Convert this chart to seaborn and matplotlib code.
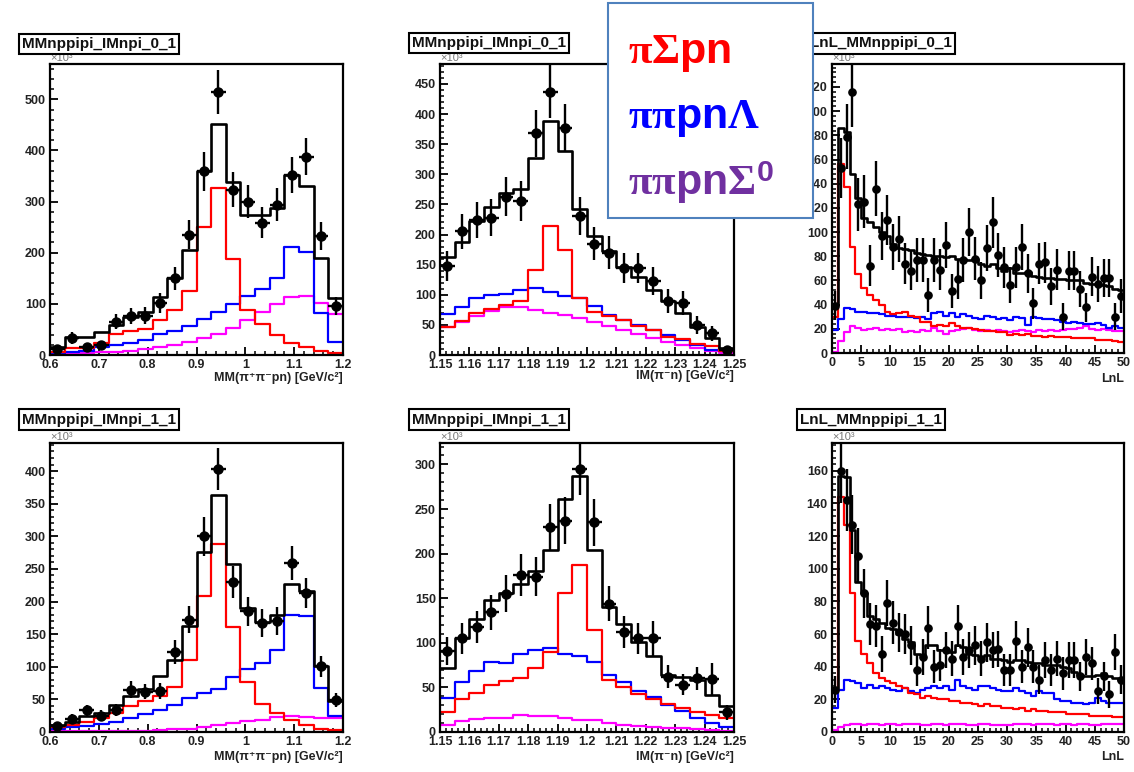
import numpy as np
import pandas as pd
import matplotlib
matplotlib.use("Agg")
import matplotlib.pyplot as plt
import seaborn as sns
from matplotlib.patches import Rectangle
from matplotlib.ticker import MultipleLocator, FormatStrFormatter

# ------------------------------------------------------------------ data
# Panel 1: MM(pi+ pi- p n), selection 0_1  (20 bins, 0.6 - 1.2)
mm0_data = [11, 33, 15, 20, 65, 76, 77, 102, 150, 235, 359, 515, 323, 300, 259, 294, 352, 388, 233, 96]
mm0_err = [6, 11, 7, 8, 15, 16, 16, 19, 23, 28, 38, 43, 34, 32, 30, 32, 35, 36, 28, 18]
mm0_total = [16, 35, 35, 44, 59, 74, 85, 114, 150, 205, 359, 451, 339, 274, 274, 287, 352, 331, 189, 111]
mm0_sigma = [5, 13, 14, 23, 41, 46, 50, 68, 88, 126, 251, 326, 187, 88, 60, 39, 23, 16, 7, 3]
mm0_lambda = [3, 6, 8, 15, 20, 24, 29, 41, 46, 57, 70, 85, 100, 116, 130, 150, 211, 202, 82, 26]
mm0_sigma0 = [2, 3, 3, 5, 6, 8, 11, 15, 20, 26, 33, 42, 53, 68, 85, 100, 114, 116, 101, 80]

# Panel 2: IM(pi- n), selection 0_1  (20 bins, 1.15 - 1.25)
im0_data = [148, 205, 224, 228, 263, 255, 368, 437, 377, 231, 185, 170, 145, 144, 123, 89, 87, 50, 36, 9]
im0_err = [25, 29, 30, 31, 33, 33, 39, 44, 40, 31, 28, 27, 25, 25, 23, 20, 20, 15, 12, 6]
im0_total = [162, 188, 223, 246, 269, 276, 327, 388, 339, 243, 198, 173, 146, 129, 108, 89, 69, 47, 29, 12]
im0_sigma = [47, 57, 70, 76, 83, 89, 141, 214, 174, 95, 72, 65, 58, 48, 42, 30, 26, 19, 15, 7]
im0_lambda = [68, 80, 95, 99, 102, 108, 111, 105, 98, 94, 81, 66, 58, 50, 42, 33, 25, 17, 9, 6]
im0_sigma0 = [47, 55, 65, 73, 80, 79, 75, 70, 66, 61, 54, 48, 42, 35, 28, 22, 17, 11, 6, 3]

# Panel 3: LnL, selection 0_1  (50 bins, 0 - 50)
lnl0_data = [39, 153, 179, 216, 123, 125, 72, 136, 97, 110, 88, 94, 74, 68, 77, 77, 48, 77, 69, 89,
             51, 61, 77, 100, 78, 60, 87, 108, 81, 71, 56, 71, 88, 66, 41, 74, 75, 55, 69, 30,
             68, 68, 53, 38, 63, 57, 62, 62, 30, 47]
lnl0_err = [12, 25, 27, 29, 22, 22, 17, 23, 20, 21, 19, 19, 17, 16, 18, 18, 14, 18, 17, 19,
            14, 16, 18, 20, 18, 15, 19, 21, 18, 17, 15, 17, 19, 16, 13, 17, 17, 15, 17, 11,
            16, 16, 15, 12, 16, 15, 16, 16, 11, 14]
lnl0_total = [40, 186, 183, 148, 128, 112, 108, 104, 100, 97, 90, 87, 86, 85, 83, 82, 81, 80, 80, 79,
              80, 78, 78, 77, 78, 74, 72, 74, 70, 68, 70, 66, 66, 67, 64, 63, 62, 62, 61, 61,
              60, 60, 60, 58, 57, 57, 56, 55, 53, 52]
lnl0_sigma = [30, 156, 137, 88, 65, 54, 48, 44, 40, 34, 32, 33, 34, 31, 30, 26, 26, 22, 23, 22,
              25, 22, 21, 21, 20, 19, 18, 18, 17, 17, 15, 16, 15, 16, 14, 14, 13, 14, 13, 13,
              13, 12, 12, 12, 12, 11, 11, 11, 10, 9]
lnl0_lambda = [19, 28, 37, 36, 34, 34, 33, 33, 32, 31, 31, 30, 30, 30, 29, 30, 28, 33, 34, 31,
               33, 30, 32, 31, 29, 28, 31, 30, 28, 29, 27, 30, 29, 23, 30, 29, 28, 28, 27, 26,
               25, 26, 25, 24, 24, 25, 23, 21, 22, 21]
lnl0_sigma0 = [1, 10, 17, 22, 21, 19, 20, 21, 19, 20, 19, 20, 17, 18, 17, 19, 18, 21, 18, 16,
               18, 19, 20, 21, 19, 18, 19, 18, 19, 18, 17, 18, 19, 18, 17, 19, 18, 19, 18, 19,
               20, 20, 21, 22, 20, 19, 20, 19, 18, 18]

# Panel 4: MM(pi+ pi- p n), selection 1_1
mm1_data = [9, 20, 33, 25, 34, 65, 62, 63, 123, 172, 300, 403, 230, 185, 167, 170, 259, 213, 101, 49]
mm1_err = [5, 7, 9, 8, 9, 13, 12, 12, 18, 21, 30, 32, 24, 22, 21, 21, 26, 23, 16, 11]
mm1_total = [11, 16, 24, 29, 42, 55, 66, 86, 111, 162, 276, 363, 258, 190, 169, 180, 227, 216, 101, 47]
mm1_sigma = [8, 11, 16, 21, 29, 40, 47, 55, 69, 110, 209, 288, 161, 76, 43, 29, 19, 10, 5, 3]
mm1_lambda = [5, 8, 9, 12, 16, 21, 27, 34, 42, 52, 60, 66, 84, 97, 106, 125, 180, 178, 68, 24]
mm1_sigma0 = [1, 1, 1, 1, 2, 2, 2, 3, 4, 5, 7, 10, 14, 17, 19, 23, 24, 23, 22, 22]

# Panel 5: IM(pi- n), selection 1_1
im1_data = [91, 105, 118, 134, 155, 176, 174, 230, 237, 295, 235, 144, 112, 105, 105, 62, 53, 60, 59, 22]
im1_err = [16, 17, 18, 20, 21, 23, 22, 26, 26, 29, 26, 20, 18, 17, 20, 13, 12, 13, 18, 8]
im1_total = [72, 105, 127, 148, 156, 166, 181, 204, 261, 287, 204, 140, 121, 101, 85, 64, 62, 58, 42, 29]
im1_sigma = [22, 37, 44, 53, 57, 60, 72, 90, 156, 187, 114, 58, 51, 43, 37, 31, 27, 22, 19, 16]
im1_lambda = [38, 56, 68, 79, 77, 87, 92, 94, 88, 85, 78, 64, 56, 46, 39, 30, 24, 16, 10, 6]
im1_sigma0 = [8, 12, 15, 16, 16, 19, 18, 18, 16, 14, 13, 10, 8, 7, 6, 5, 4, 3, 2, 1]

# Panel 6: LnL, selection 1_1
lnl1_data = [26, 160, 142, 127, 108, 85, 66, 65, 48, 79, 67, 61, 60, 53, 38, 46, 64, 40, 41, 50,
             45, 65, 46, 50, 53, 45, 55, 50, 51, 38, 38, 56, 40, 52, 40, 32, 44, 38, 45, 36,
             44, 44, 34, 46, 42, 25, 34, 23, 49, 32]
lnl1_err = [8, 20, 19, 18, 17, 15, 13, 13, 11, 14, 13, 12, 12, 12, 10, 11, 13, 10, 10, 11,
            11, 13, 11, 11, 12, 11, 12, 11, 11, 10, 10, 12, 10, 12, 10, 9, 11, 10, 11, 10,
            11, 11, 9, 11, 10, 8, 9, 8, 11, 9]
lnl1_total = [27, 157, 156, 124, 92, 85, 71, 69, 67, 64, 63, 60, 57, 55, 48, 47, 53, 53, 50, 50,
              49, 53, 52, 48, 47, 46, 47, 45, 45, 44, 43, 44, 44, 43, 42, 42, 41, 41, 41, 40,
              39, 37, 35, 34, 34, 35, 36, 34, 33, 32]
lnl1_sigma = [25, 144, 127, 85, 56, 48, 42, 36, 33, 31, 30, 28, 27, 24, 23, 21, 22, 21, 20, 20,
              19, 19, 18, 18, 17, 16, 17, 16, 16, 15, 15, 14, 15, 13, 14, 13, 13, 12, 12, 12,
              11, 11, 11, 11, 10, 10, 10, 10, 9, 9]
lnl1_lambda = [15, 26, 32, 31, 30, 27, 29, 27, 28, 27, 26, 25, 27, 25, 24, 26, 27, 28, 27, 28,
               26, 32, 28, 27, 26, 28, 28, 27, 26, 25, 25, 27, 25, 24, 22, 25, 24, 24, 20, 19,
               19, 18, 18, 17, 18, 21, 19, 18, 18, 18]
lnl1_sigma0 = [1, 3, 4, 5, 5, 4, 5, 5, 4, 5, 5, 4, 5, 5, 5, 4, 4, 5, 5, 4, 5, 5, 5, 4, 4,
               5, 5, 4, 4, 4, 4, 5, 5, 5, 4, 5, 5, 5, 4, 5, 5, 4, 5, 5, 4, 4, 5, 5, 5, 5]

titles = ["MMnppipi_IMnpi_0_1", "MMnppipi_IMnpi_0_1", "LnL_MMnppipi_0_1",
          "MMnppipi_IMnpi_1_1", "MMnppipi_IMnpi_1_1", "LnL_MMnppipi_1_1"]
xlabels = ["MM(π⁺π⁻pn) [GeV/c²]", "IM(π⁻n) [GeV/c²]", "LnL",
           "MM(π⁺π⁻pn) [GeV/c²]", "IM(π⁻n) [GeV/c²]", "LnL"]
legend_labels = [r"$\mathrm{\pi\Sigma}$pn", r"$\mathrm{\pi\pi}$pn$\mathrm{\Lambda}$",
                 r"$\mathrm{\pi\pi}$pn$\mathrm{\Sigma}^{\mathsf{0}}$"]

# ------------------------------------------------------------------ style
sns.set_theme(style="ticks")
plt.rcParams.update({
    "font.family": ["Liberation Sans", "DejaVu Sans"],
    "font.weight": "bold",
    "axes.linewidth": 1.6,
    "axes.edgecolor": "black",
    "mathtext.fontset": "custom",
    "mathtext.rm": "Liberation Serif:bold",
    "mathtext.it": "Liberation Serif:bold:italic",
    "mathtext.bf": "Liberation Serif:bold",
    "mathtext.sf": "Liberation Sans:bold",
})

RED, BLUE, MAG = "#ff0000", "#0000ff", "#ff00ff"
W, H = 1134, 772
fig = plt.figure(figsize=(W / 100, H / 100), dpi=100)
fig.patch.set_facecolor("white")


def frac(l, t, r, b):
    return [l / W, 1 - b / H, (r - l) / W, (b - t) / H]


boxes = [(50, 64, 343, 355), (440, 64, 734, 355), (832, 64, 1124, 353),
         (50, 443, 343, 732), (440, 443, 734, 732), (832, 443, 1124, 732)]

panels = [
    dict(edges=np.linspace(0.6, 1.2, 21), d=(mm0_data, mm0_err, mm0_total, mm0_sigma, mm0_lambda, mm0_sigma0),
         ylim=569, xmaj=0.1, xmin=0.02, ymaj=100, ymin=20, ms=6.5),
    dict(edges=np.linspace(1.15, 1.25, 21), d=(im0_data, im0_err, im0_total, im0_sigma, im0_lambda, im0_sigma0),
         ylim=483, xmaj=0.01, xmin=0.002, ymaj=50, ymin=10, ms=6.5),
    dict(edges=np.linspace(0, 50, 51), d=(lnl0_data, lnl0_err, lnl0_total, lnl0_sigma, lnl0_lambda, lnl0_sigma0),
         ylim=239, xmaj=5, xmin=1, ymaj=20, ymin=4, ms=5.2),
    dict(edges=np.linspace(0.6, 1.2, 21), d=(mm1_data, mm1_err, mm1_total, mm1_sigma, mm1_lambda, mm1_sigma0),
         ylim=443, xmaj=0.1, xmin=0.02, ymaj=50, ymin=10, ms=6.5),
    dict(edges=np.linspace(1.15, 1.25, 21), d=(im1_data, im1_err, im1_total, im1_sigma, im1_lambda, im1_sigma0),
         ylim=324, xmaj=0.01, xmin=0.002, ymaj=50, ymin=10, ms=6.5),
    dict(edges=np.linspace(0, 50, 51), d=(lnl1_data, lnl1_err, lnl1_total, lnl1_sigma, lnl1_lambda, lnl1_sigma0),
         ylim=177, xmaj=5, xmin=1, ymaj=20, ymin=4, ms=5.2),
]

xlabel_y = [378, 376, 379, 757, 757, 757]
title_pos = [(17, 44, "left"), (407, 43, "left"), (957, 43.5, "right"),
             (17, 419.5, "left"), (407, 419.5, "left"), (795, 419.5, "left")]

for i, (box, p) in enumerate(zip(boxes, panels)):
    ax = fig.add_axes(frac(*box))
    edges = p["edges"]
    centers = (edges[:-1] + edges[1:]) / 2
    half = np.diff(edges) / 2
    data, err, total, sig, lam, s0 = p["d"]
    for vals, col, lw, z in [(s0, MAG, 1.6, 2), (lam, BLUE, 1.6, 2.1), (sig, RED, 1.6, 2.2), (total, "black", 1.9, 3)]:
        df = pd.DataFrame({"x": centers, "w": np.asarray(vals, dtype=float)})
        sns.histplot(data=df, x="x", weights="w", bins=[float(e) for e in edges], element="step",
                     fill=False, color=col, linewidth=lw, ax=ax, zorder=z)
    ax.errorbar(centers, data, yerr=err, xerr=half, fmt="o", color="black", ms=p["ms"],
                elinewidth=1.7, capsize=0, zorder=5)
    ax.set_xlim(edges[0], edges[-1])
    ax.set_ylim(0, p["ylim"])
    ax.set_xlabel("")
    ax.set_ylabel("")
    ax.xaxis.set_major_locator(MultipleLocator(p["xmaj"]))
    ax.xaxis.set_minor_locator(MultipleLocator(p["xmin"]))
    ax.yaxis.set_major_locator(MultipleLocator(p["ymaj"]))
    ax.yaxis.set_minor_locator(MultipleLocator(p["ymin"]))
    ax.xaxis.set_major_formatter(FormatStrFormatter("%g"))
    ax.yaxis.set_major_formatter(FormatStrFormatter("%d"))
    ax.tick_params(which="both", direction="in", top=False, right=False, bottom=True, left=True,
                   colors="black", labelcolor="#222222")
    ax.tick_params(which="major", length=5.5, width=1.3, labelsize=9, pad=3)
    ax.tick_params(which="minor", length=2.8, width=1.1)
    for lab in ax.get_xticklabels() + ax.get_yticklabels():
        lab.set_fontweight("bold")
    for s in ax.spines.values():
        s.set_linewidth(1.6)
        s.set_color("black")
    ax.set_facecolor("white")
    ax.grid(False)

    l, t, r, b = box
    fig.text(l / W, 1 - (t - 1) / H, "×10³", fontsize=8, fontweight="normal", color="#777777",
             ha="left", va="bottom")
    fig.text(r / W, 1 - xlabel_y[i] / H, xlabels[i], fontsize=9, fontweight="bold",
             ha="right", va="center", color="#222222")
    tx, ty, tha = title_pos[i]
    pad_px = 5
    fig.text((tx + (pad_px if tha == "left" else -pad_px)) / W, 1 - ty / H, titles[i],
             fontsize=11, fontweight="bold", ha=tha, va="center", color="#111111",
             bbox=dict(boxstyle="square,pad=0.2", facecolor="white", edgecolor="black", linewidth=1.5))

# legend box (drawn over the panels)
fig.add_artist(Rectangle((608 / W, 1 - 218 / H), 205 / W, 215 / H, transform=fig.transFigure,
                         facecolor="white", edgecolor="#4f81bd", linewidth=1.5, zorder=10))
leg_cols = [RED, BLUE, "#7030a0"]
leg_base = [63, 128, 195]
for lab, col, yb in zip(legend_labels, leg_cols, leg_base):
    fig.text(628 / W, 1 - yb / H, lab, fontsize=31, fontweight="bold", color=col,
             ha="left", va="baseline", zorder=11)

fig.savefig("out.png", dpi=100, facecolor="white")
